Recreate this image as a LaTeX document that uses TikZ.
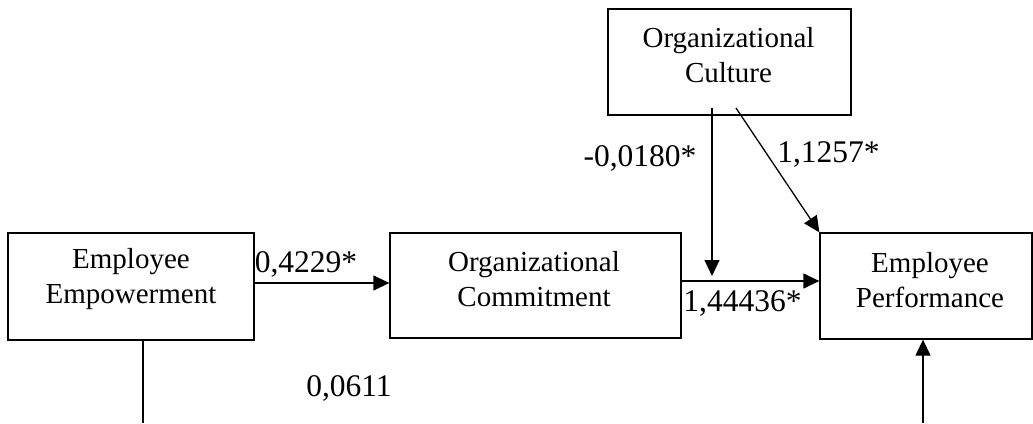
\documentclass[tikz,border=0pt]{standalone}
\usepackage{fontspec}
\setmainfont{Liberation Serif}
\usetikzlibrary{arrows.meta,calc}
\begin{document}
\begin{tikzpicture}[x=1pt,y=-1pt,
  box/.style={draw,line width=1.3pt,inner sep=0pt},
  boxtext/.style={align=center,inner sep=0pt,font=\fontsize{29}{34.5}\selectfont},
  coef/.style={inner sep=0pt,font=\fontsize{31.5}{36}\selectfont},
  conn/.style={line width=1.3pt},
  arr/.style={conn,-{Triangle[length=16pt,width=15pt]}}]
\useasboundingbox (0,0) rectangle (1033,423);
% boxes
\node[box,minimum width=246pt,minimum height=107pt] (ee) at (131,286.5) {};
\node[box,minimum width=291pt,minimum height=105pt] (ocm) at (535.5,285.5) {};
\node[box,minimum width=243pt,minimum height=106pt] (cult) at (729.5,62) {};
\node[box,minimum width=212pt,minimum height=106pt] (ep) at (926,286) {};
% box texts
\node[boxtext] (eet) at (131,279) {Employee\\Empowerment};
\node[boxtext] (ocmt) at (534,279) {Organizational\\Commitment};
\node[boxtext] (cultt) at (728.5,55) {Organizational\\Culture};
\node[boxtext] (ept) at (930,280) {Employee\\Performance};
% helper coordinates
\coordinate (cv) at (712,108);
\coordinate (cvend) at (712,276);
\coordinate (cd) at (736,108);
\coordinate (eeb) at (143,423);
\coordinate (epb) at (923,423);
% connectors
\draw[arr] (ee.east |- 0,283) -- (ocm.west |- 0,283);
\draw[arr] (ocm.east |- 0,281) -- (ep.west |- 0,281);
\draw[arr] (cv) -- (cvend);
\draw[arr] (cd) -- (ep.north west);
\draw[arr] (epb) -- (epb |- ep.south);
\draw[conn] (eeb |- ee.south) -- (eeb);
% coefficients
\node[coef] (l1) at (306,264) {0,4229*};
\node[coef] (l2) at (349,388) {0,0611};
\node[coef] (l3) at (640,158) {-0,0180*};
\node[coef] (l4) at (828.5,154) {1,1257*};
\node[coef] (l5) at (742.5,303) {1,44436*};
\end{tikzpicture}
\end{document}
